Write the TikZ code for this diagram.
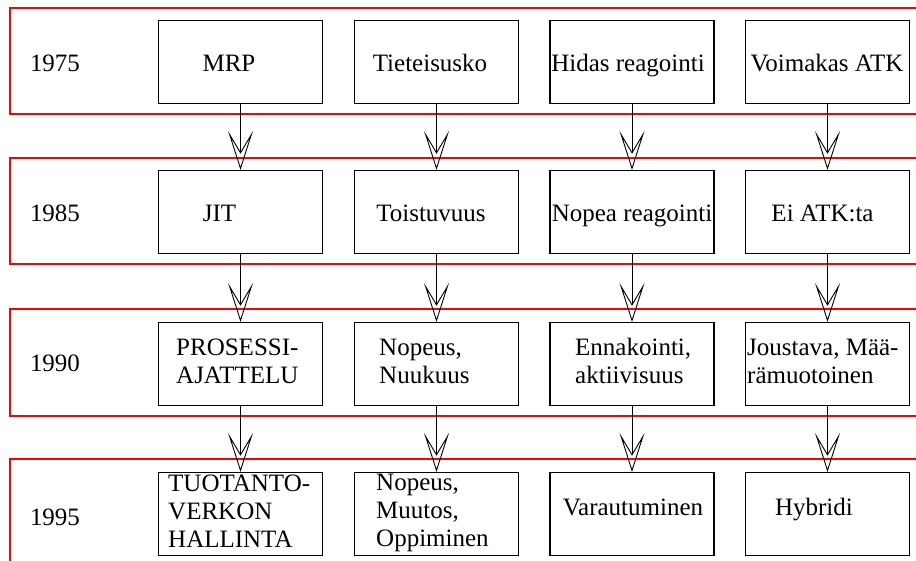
\documentclass[tikz,border=0pt]{standalone}
\usepackage{fontspec}
\setmainfont{LiberationSerif}[Extension=.ttf, UprightFont=*-Regular,
  BoldFont=*-Bold, ItalicFont=*-Italic, BoldItalicFont=*-BoldItalic]
\usetikzlibrary{arrows.meta}
\begin{document}
\begin{tikzpicture}[x=1pt,y=-1pt,
  every node/.style={font=\fontsize{25pt}{28pt}\selectfont},
  band/.style={draw=red, line width=1.2pt},
  stage/.style={draw=black, line width=1.1pt, minimum width=164pt,
    minimum height=83pt, inner sep=0pt},
  txt/.style={inner sep=0pt, anchor=base},
  txtml/.style={inner sep=0pt, anchor=north west, align=left},
  conn/.style={draw=black, line width=0.9pt,
    -{Stealth[open, length=39pt, width=25pt, inset=21pt]}}
]
\useasboundingbox (0,0) rectangle (916,561);
\clip (0,0) rectangle (916,561);

% period bands
\draw[band] (10,8)   rectangle (940,114);
\draw[band] (10,158) rectangle (940,264);
\draw[band] (10,309) rectangle (940,416);
\draw[band] (10,459) rectangle (940,600);

% years
\node[txt] (y1) at (55,72)  {1975};
\node[txt] (y2) at (55,222) {1985};
\node[txt] (y3) at (55,372) {1990};
\node[txt] (y4) at (55,525) {1995};

% stage boxes: column c, row r
\foreach \c/\x in {1/240.5, 2/436.5, 3/632, 4/827.5}
  \foreach \r/\y in {1/62, 2/212, 3/364, 4/514}
    \node[stage] (b\r\c) at (\x,\y) {};

% row 1975
\node[txt] (t11) at (229,72) {MRP};
\node[txt] (t12) at (430,72) {Tieteisusko};
\node[txt] (t13) at (628,72) {Hidas reagointi};
\node[txt] (t14) at (827,72) {Voimakas ATK};

% row 1985
\node[txt] (t21) at (219.5,222) {JIT};
\node[txt] (t22) at (431,222) {Toistuvuus};
\node[txt] (t23) at (632,222) {Nopea reagointi};
\node[txt] (t24) at (822.5,222) {Ei ATK:ta};

% row 1990
\node[txtml] (t31) at (176,338.5) {PROSESSI-\\AJATTELU};
\node[txtml] (t32) at (379,338.5) {Nopeus,\\Nuukuus};
\node[txtml] (t33) at (575,338) {Ennakointi,\\aktiivisuus};
\node[txtml] (t34) at (747,338.5) {Joustava, Mää-\\rämuotoinen};

% row 1995
\node[txtml] (t41) at (168,475) {TUOTANTO-\\VERKON\\HALLINTA};
\node[txtml] (t42) at (376,473.5) {Nopeus,\\Muutos,\\Oppiminen};
\node[txt] (t43) at (633,515) {Varautuminen};
\node[txt] (t44) at (814,515) {Hybridi};

% transitions between periods
\foreach \c in {1,2,3,4} {
  \draw[conn] (b1\c.south) -- (b2\c.north);
  \draw[conn] (b2\c.south) -- (b3\c.north);
  \draw[conn] (b3\c.south) -- (b4\c.north);
}
\end{tikzpicture}
\end{document}
